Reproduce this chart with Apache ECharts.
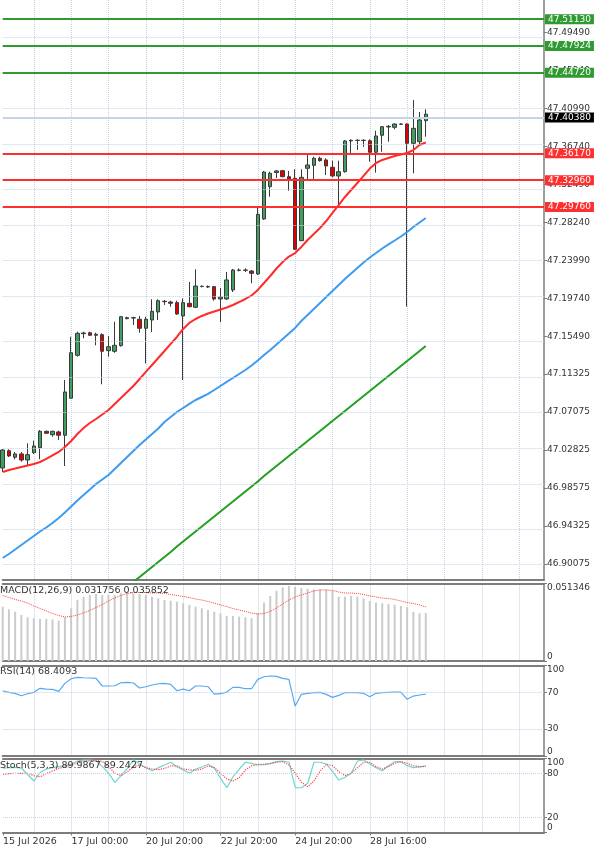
<!DOCTYPE html>
<html lang="en">
<head>
<meta charset="UTF-8">
<title>Chart</title>
<script src="https://cdn.jsdelivr.net/npm/echarts@6.0.0/dist/echarts.min.js"></script>
<style>
    html, body { margin: 0; padding: 0; background: #fff; }
    #chart { width: 600px; height: 850px; }
</style>
</head>
<body>
<div id="chart"></div>
<script>
    // x axis: 4H bars, labelled every 12 bars
    const timeLabels = ['15 Jul 2026', '17 Jul 00:00', '20 Jul 20:00', '22 Jul 20:00', '24 Jul 20:00', '28 Jul 16:00']
    const timeIdx = [0, 11, 23, 35, 47, 59]
    const slots = 88

    // price scale labels on the right
    const priceTicks = [47.49490, 47.45240, 47.40990, 47.36740, 47.32490, 47.28240, 47.23990, 47.19740,
        47.15490, 47.11325, 47.07075, 47.02825, 46.98575, 46.94325, 46.90075]

    const opens = [47.0081, 47.0274, 47.0201, 47.0238, 47.0170, 47.0252, 47.0308, 47.0491, 47.0453, 47.0484,
        47.0447, 47.0861, 47.1341, 47.1583, 47.1594, 47.1565, 47.1572, 47.1393, 47.1386, 47.1449,
        47.1751, 47.1758, 47.1744, 47.1643, 47.1736, 47.1826, 47.1945, 47.1937, 47.1930, 47.1781,
        47.1923, 47.1878, 47.2111, 47.2111, 47.2109, 47.1971, 47.1971, 47.2072, 47.2292, 47.2295,
        47.2284, 47.2251, 47.2866, 47.3227, 47.3386, 47.3406, 47.3339, 47.3321, 47.2623, 47.3433,
        47.3466, 47.3545, 47.3526, 47.3444, 47.3347, 47.3395, 47.3738, 47.3746, 47.3744, 47.3741,
        47.3612, 47.3802, 47.3895, 47.3891, 47.3928, 47.3928, 47.3712, 47.3730, 47.3965]
    const closes = [47.0282, 47.0215, 47.0238, 47.0170, 47.0230, 47.0327, 47.0491, 47.0469, 47.0491, 47.0447,
        47.0931, 47.1370, 47.1587, 47.1591, 47.1565, 47.1576, 47.1386, 47.1438, 47.1453, 47.1773,
        47.1762, 47.1762, 47.1643, 47.1744, 47.1833, 47.1952, 47.1941, 47.1923, 47.1803, 47.1930,
        47.1885, 47.2116, 47.2113, 47.2105, 47.1971, 47.1993, 47.2184, 47.2295, 47.2295, 47.2292,
        47.2258, 47.2918, 47.3391, 47.3377, 47.3403, 47.3339, 47.3313, 47.2527, 47.3332, 47.3470,
        47.3545, 47.3518, 47.3459, 47.3347, 47.3395, 47.3738, 47.3746, 47.3744, 47.3746, 47.3612,
        47.3794, 47.3898, 47.3902, 47.3928, 47.3925, 47.3712, 47.3880, 47.3973, 47.4038]
    const lows = [47.0036, 47.0204, 47.0178, 47.0151, 47.0111, 47.0238, 47.0178, 47.0461, 47.0431, 47.0394,
        47.0103, 47.0853, 47.1326, 47.1531, 47.1557, 47.1453, 47.1017, 47.1326, 47.1370, 47.1438,
        47.1744, 47.1680, 47.1594, 47.1252, 47.1602, 47.1736, 47.1904, 47.1885, 47.1795, 47.1065,
        47.1878, 47.1870, 47.2100, 47.2094, 47.1952, 47.1714, 47.1960, 47.2049, 47.2279, 47.2273,
        47.2147, 47.2239, 47.2855, 47.3115, 47.3324, 47.3332, 47.3182, 47.2519, 47.2620, 47.3294,
        47.3294, 47.3507, 47.3358, 47.3332, 47.3011, 47.3384, 47.3582, 47.3637, 47.3674, 47.3507,
        47.3384, 47.3618, 47.3730, 47.3869, 47.3917, 47.1885, 47.3377, 47.3693, 47.3786]
    const highs = [47.0293, 47.0290, 47.0260, 47.0260, 47.0357, 47.0386, 47.0506, 47.0498, 47.0498, 47.0498,
        47.1065, 47.1549, 47.1605, 47.1605, 47.1605, 47.1594, 47.1587, 47.1557, 47.1717, 47.1781,
        47.1773, 47.1773, 47.1781, 47.1773, 47.1968, 47.1968, 47.1960, 47.1952, 47.1952, 47.1977,
        47.2161, 47.2303, 47.2122, 47.2122, 47.2116, 47.2094, 47.2273, 47.2307, 47.2312, 47.2312,
        47.2295, 47.3003, 47.3403, 47.3395, 47.3414, 47.3414, 47.3403, 47.3422, 47.3422, 47.3582,
        47.3563, 47.3563, 47.3545, 47.3518, 47.3518, 47.3749, 47.3757, 47.3757, 47.3757, 47.3757,
        47.3853, 47.3906, 47.3917, 47.3936, 47.3936, 47.3936, 47.4197, 47.4062, 47.4093]

    const redMA = [47.0036, 47.0059, 47.0075, 47.0092, 47.0109, 47.0126, 47.0148, 47.0182, 47.0221, 47.0260,
        47.0316, 47.0383, 47.0461, 47.0528, 47.0584, 47.0629, 47.0679, 47.0730, 47.0797, 47.0864,
        47.0931, 47.0998, 47.1076, 47.1155, 47.1233, 47.1311, 47.1389, 47.1468, 47.1546, 47.1636,
        47.1703, 47.1747, 47.1781, 47.1809, 47.1831, 47.1854, 47.1876, 47.1904, 47.1937, 47.1971,
        47.2010, 47.2072, 47.2150, 47.2228, 47.2312, 47.2385, 47.2446, 47.2485, 47.2553, 47.2631,
        47.2698, 47.2765, 47.2843, 47.2933, 47.3022, 47.3112, 47.3190, 47.3268, 47.3347, 47.3430,
        47.3492, 47.3526, 47.3548, 47.3570, 47.3587, 47.3604, 47.3637, 47.3693, 47.3721]
    const blueMA = [46.9074, 46.9119, 46.9169, 46.9220, 46.9270, 46.9320, 46.9371, 46.9415, 46.9466, 46.9522,
        46.9583, 46.9650, 46.9717, 46.9779, 46.9840, 46.9902, 46.9952, 47.0003, 47.0070, 47.0137,
        47.0204, 47.0271, 47.0338, 47.0400, 47.0461, 47.0523, 47.0595, 47.0651, 47.0707, 47.0752,
        47.0797, 47.0841, 47.0875, 47.0909, 47.0953, 47.0998, 47.1043, 47.1087, 47.1132, 47.1177,
        47.1227, 47.1283, 47.1345, 47.1401, 47.1462, 47.1524, 47.1585, 47.1647, 47.1725, 47.1792,
        47.1859, 47.1926, 47.1993, 47.2061, 47.2128, 47.2195, 47.2256, 47.2318, 47.2379, 47.2435,
        47.2485, 47.2536, 47.2581, 47.2625, 47.2670, 47.2720, 47.2776, 47.2827, 47.2877]
    const greenMA = [null, null, null, null, null, null, null, null, null, null,
        null, null, null, null, null, null, null, null, null, null, null,
        46.8806, 46.8862, 46.8918, 46.8974, 46.9030, 46.9086, 46.9141, 46.9203, 46.9259, 46.9315,
        46.9371, 46.9427, 46.9483, 46.9539, 46.9594, 46.9650, 46.9706, 46.9762, 46.9818, 46.9874,
        46.9930, 46.9991, 47.0047, 47.0103, 47.0159, 47.0215, 47.0271, 47.0327, 47.0383, 47.0439,
        47.0495, 47.0551, 47.0607, 47.0662, 47.0718, 47.0774, 47.0830, 47.0886, 47.0942, 47.0998,
        47.1054, 47.1110, 47.1166, 47.1222, 47.1278, 47.1333, 47.1389, 47.1445]

    // horizontal levels
    const greenLevels = [47.51130, 47.47924, 47.44720]
    const redLevels = [47.36170, 47.32960, 47.29760]
    const lastPrice = 47.40380

    const macdHist = [0.03598, 0.03425, 0.03266, 0.03048, 0.02895, 0.02829, 0.02783, 0.02783, 0.02763, 0.02670,
        0.02895, 0.03492, 0.04041, 0.04260, 0.04373, 0.04439, 0.04373, 0.04373, 0.04373, 0.04485,
        0.04525, 0.04485, 0.04439, 0.04373, 0.04260, 0.04154, 0.04041, 0.03995, 0.03929, 0.03823,
        0.03710, 0.03598, 0.03492, 0.03379, 0.03266, 0.03160, 0.02981, 0.02981, 0.02935, 0.02895,
        0.02829, 0.03160, 0.03863, 0.04306, 0.04658, 0.04883, 0.04969, 0.04903, 0.04836, 0.04790,
        0.04750, 0.04750, 0.04724, 0.04658, 0.04260, 0.04260, 0.04306, 0.04260, 0.04154, 0.03975,
        0.03863, 0.03823, 0.03776, 0.03730, 0.03644, 0.03558, 0.03246, 0.03160, 0.031756]
    const macdSignal = [0.04340, 0.04207, 0.04075, 0.03975, 0.03843, 0.03644, 0.03478, 0.03313, 0.03147, 0.03015,
        0.02915, 0.02948, 0.03048, 0.03180, 0.03346, 0.03545, 0.03743, 0.03975, 0.04174, 0.04340,
        0.04472, 0.04538, 0.04538, 0.04538, 0.04505, 0.04505, 0.04472, 0.04406, 0.04340, 0.04273,
        0.04207, 0.04108, 0.04041, 0.03942, 0.03843, 0.03710, 0.03611, 0.03478, 0.03379, 0.03280,
        0.03180, 0.03114, 0.03147, 0.03280, 0.03511, 0.03776, 0.04041, 0.04240, 0.04373, 0.04505,
        0.04638, 0.04704, 0.04704, 0.04671, 0.04571, 0.04505, 0.04505, 0.04472, 0.04406, 0.04306,
        0.04240, 0.04174, 0.04141, 0.04075, 0.03975, 0.03876, 0.03810, 0.03710, 0.035852]
    const macdTicks = [0, 0.051346]

    const rsi = [72.2, 70.4, 69.3, 66.7, 68.9, 70.4, 74.8, 74.0, 73.7, 71.5,
        80.3, 85.4, 86.9, 86.5, 86.2, 85.8, 77.4, 77.4, 77.7, 81.0,
        81.4, 80.7, 75.2, 76.6, 78.5, 79.9, 80.3, 79.2, 72.2, 74.0,
        72.2, 77.4, 77.4, 76.6, 68.5, 68.9, 70.7, 75.9, 75.9, 74.4,
        74.4, 84.7, 87.6, 88.4, 88.0, 85.8, 84.7, 55.3, 68.2, 69.3,
        70.0, 70.4, 68.2, 64.9, 67.1, 70.0, 70.0, 70.0, 69.3, 65.6,
        69.3, 70.0, 70.4, 70.7, 70.7, 62.7, 66.3, 67.5, 68.4093]
    const rsiTicks = [0, 30, 70, 100]
    const rsiLevels = [30, 70]

    const stochK = [86.8, 87.6, 88.1, 86.8, 77.7, 69.6, 81.4, 85.8, 87.6, 89.0,
        90.3, 92.6, 96.6, 98.0, 98.0, 96.6, 89.0, 80.0, 67.8, 76.8,
        86.8, 98.0, 92.2, 87.6, 83.5, 87.6, 91.2, 94.9, 88.5, 84.5,
        80.0, 85.8, 88.5, 92.2, 86.8, 73.2, 60.5, 75.4, 85.8, 94.9,
        93.5, 91.2, 91.6, 93.0, 95.7, 96.6, 94.9, 60.5, 60.5, 66.5,
        94.9, 94.9, 92.6, 82.2, 70.9, 74.6, 80.0, 96.6, 98.0, 92.6,
        87.6, 83.5, 90.3, 95.7, 95.7, 90.3, 87.6, 88.8, 89.9867]
    const stochD = [78.6, 79.5, 80.0, 80.0, 80.0, 76.8, 75.4, 80.0, 83.1, 86.8,
        88.5, 91.2, 93.9, 96.2, 97.0, 97.6, 95.7, 89.0, 80.0, 76.8,
        82.2, 89.0, 91.2, 87.6, 85.8, 84.9, 86.8, 89.9, 90.3, 85.8,
        84.5, 84.1, 85.8, 89.9, 87.6, 80.0, 72.3, 69.6, 74.1, 84.5,
        90.3, 92.2, 92.2, 93.5, 94.9, 95.7, 91.2, 80.0, 67.8, 61.9,
        69.6, 83.1, 92.2, 90.3, 82.2, 76.8, 80.0, 87.6, 94.9, 94.9,
        89.0, 85.8, 89.0, 93.5, 95.7, 93.5, 90.3, 89.0, 89.2427]
    const stochTicks = [0, 20, 80, 100]
    const stochLevels = [20, 80]

    const font = 'DejaVu Sans'
    const gridCol = '#c5d2e6'
    const frameCol = '#7d7d7d'
    const textCol = '#333'

    const cats = []
    for (let i = 0; i < slots; i++) cats.push(String(i))

    const candles = opens.map((o, i) => [o, closes[i], lows[i], highs[i]])
    const vGrid = (i) => i >= 5 && (i - 5) % 6 === 0

    function xAxisFor(gi, pos, withLabels) {
        return {
            type: 'category', gridIndex: gi, data: cats, boundaryGap: false, position: pos,
            axisLine: {show: true, lineStyle: {color: frameCol, width: 2}},
            axisTick: withLabels
                ? {show: true, length: 3, interval: (i) => timeIdx.includes(i), lineStyle: {color: frameCol}}
                : {show: false},
            axisLabel: withLabels ? {
                show: true, interval: (i) => timeIdx.includes(i), align: 'left', margin: 4,
                fontFamily: font, fontSize: 9.5, color: textCol,
                formatter: (v, i) => timeLabels[timeIdx.indexOf(i)] || ''
            } : {show: false},
            splitLine: pos === 'bottom' ? {show: true, interval: vGrid, lineStyle: {color: gridCol, type: 'dotted'}} : {show: false}
        }
    }

    function yAxisFor(gi, min, max, ticks, fmt, edgeAlign) {
        return {
            type: 'value', gridIndex: gi, position: 'right', min: min, max: max, scale: true,
            axisLine: {show: true, lineStyle: {color: frameCol, width: 1.5}},
            axisTick: {show: true, length: 3, customValues: ticks, lineStyle: {color: frameCol}},
            axisLabel: {
                show: true, customValues: ticks, formatter: fmt, margin: 3,
                fontFamily: font, fontSize: 9, color: textCol,
                verticalAlignMinLabel: edgeAlign ? 'bottom' : null,
                verticalAlignMaxLabel: edgeAlign ? 'top' : null
            },
            splitLine: {show: false}
        }
    }

    function levelLine(v, color, width) {
        return {
            yAxis: v,
            lineStyle: {color: color, width: width, type: 'solid'},
            label: {
                show: true, position: 'end', distance: 1,
                formatter: () => v.toFixed(5),
                color: '#fff', backgroundColor: color === '#c6d4e6' ? '#000' : color,
                padding: [1, 3, 0, 3], fontFamily: font, fontSize: 9
            }
        }
    }

    const levelData = []
    greenLevels.forEach(v => levelData.push(levelLine(v, '#2f9a2f', 2)))
    redLevels.forEach(v => levelData.push(levelLine(v, '#ff2f2f', 2)))
    levelData.push(levelLine(lastPrice, '#c6d4e6', 2))

    const dotted = (vals) => ({
        silent: true, symbol: ['none', 'none'], animation: false,
        label: {show: false},
        lineStyle: {color: gridCol, type: 'dotted', width: 1},
        data: vals.map(v => ({yAxis: v}))
    })

    const titleStyle = {fontFamily: font, fontSize: 9.5, fontWeight: 'normal', color: textCol}

    const option = {
        animation: false,
        backgroundColor: '#fff',
        title: [
            {text: 'MACD(12,26,9) ' + macdHist[macdHist.length - 1] + ' ' + macdSignal[macdSignal.length - 1],
                left: 0, top: 586, padding: 0, textStyle: titleStyle},
            {text: 'RSI(14) ' + rsi[rsi.length - 1], left: 0, top: 667, padding: 0, textStyle: titleStyle},
            {text: 'Stoch(5,3,3) ' + stochK[stochK.length - 1] + ' ' + stochD[stochD.length - 1],
                left: 0, top: 761, padding: 0, textStyle: titleStyle}
        ],
        grid: [
            {left: 2.7, right: 56, top: 0, height: 580},
            {left: 2.7, right: 56, top: 583.5, height: 77.5},
            {left: 2.7, right: 56, top: 665.5, height: 90.7},
            {left: 2.7, right: 56, top: 758.5, height: 74}
        ],
        xAxis: [
            xAxisFor(0, 'bottom', false),
            xAxisFor(1, 'bottom', false),
            xAxisFor(2, 'bottom', false),
            xAxisFor(3, 'bottom', true),
            xAxisFor(1, 'top', false),
            xAxisFor(2, 'top', false),
            xAxisFor(3, 'top', false)
        ],
        yAxis: [
            yAxisFor(0, 46.8828, 47.5315, priceTicks, (v) => v.toFixed(5), false),
            yAxisFor(1, 0, 0.051346, macdTicks, (v) => v === 0 ? '0' : v.toFixed(6), true),
            yAxisFor(2, 0, 100, rsiTicks, (v) => String(v), true),
            yAxisFor(3, 0, 100, stochTicks, (v) => String(v), true)
        ],
        series: [
            {
                name: 'MA100', type: 'line', xAxisIndex: 0, yAxisIndex: 0, data: greenMA,
                showSymbol: false, lineStyle: {color: '#22a022', width: 2}, silent: true,
                markLine: dotted(priceTicks)
            },
            {
                name: 'MA50', type: 'line', xAxisIndex: 0, yAxisIndex: 0, data: blueMA,
                showSymbol: false, lineStyle: {color: '#3d9cf0', width: 2}, silent: true
            },
            {
                name: 'MA20', type: 'line', xAxisIndex: 0, yAxisIndex: 0, data: redMA,
                showSymbol: false, lineStyle: {color: '#ff2b2b', width: 2}, silent: true
            },
            {
                name: 'price', type: 'candlestick', xAxisIndex: 0, yAxisIndex: 0, data: candles,
                barWidth: 4, silent: true,
                itemStyle: {
                    color: '#3f9e60', color0: '#e20000',
                    borderColor: '#3a3a3a', borderColor0: '#3a3a3a', borderColorDoji: '#3a3a3a',
                    borderWidth: 1
                },
                markLine: {
                    silent: true, symbol: ['none', 'none'], animation: false,
                    data: levelData
                }
            },
            {
                name: 'MACD', type: 'bar', xAxisIndex: 1, yAxisIndex: 1, data: macdHist,
                barWidth: 2, itemStyle: {color: '#cbcbcb'}, silent: true
            },
            {
                name: 'Signal', type: 'line', xAxisIndex: 1, yAxisIndex: 1, data: macdSignal,
                showSymbol: false, lineStyle: {color: '#ff3b3b', width: 1, type: 'dotted'}, silent: true
            },
            {
                name: 'RSI', type: 'line', xAxisIndex: 2, yAxisIndex: 2, data: rsi,
                showSymbol: false, lineStyle: {color: '#58a8f0', width: 1.2}, silent: true,
                markLine: dotted(rsiLevels)
            },
            {
                name: 'StochK', type: 'line', xAxisIndex: 3, yAxisIndex: 3, data: stochK,
                showSymbol: false, lineStyle: {color: '#6fd6cf', width: 1.2}, silent: true,
                markLine: dotted(stochLevels)
            },
            {
                name: 'StochD', type: 'line', xAxisIndex: 3, yAxisIndex: 3, data: stochD,
                showSymbol: false, lineStyle: {color: '#ff4545', width: 1.2, type: 'dotted'}, silent: true
            }
        ]
    }

    const myChart = echarts.init(document.getElementById('chart'), null, {renderer: 'canvas'})
    myChart.setOption(option)
</script>
</body>
</html>
